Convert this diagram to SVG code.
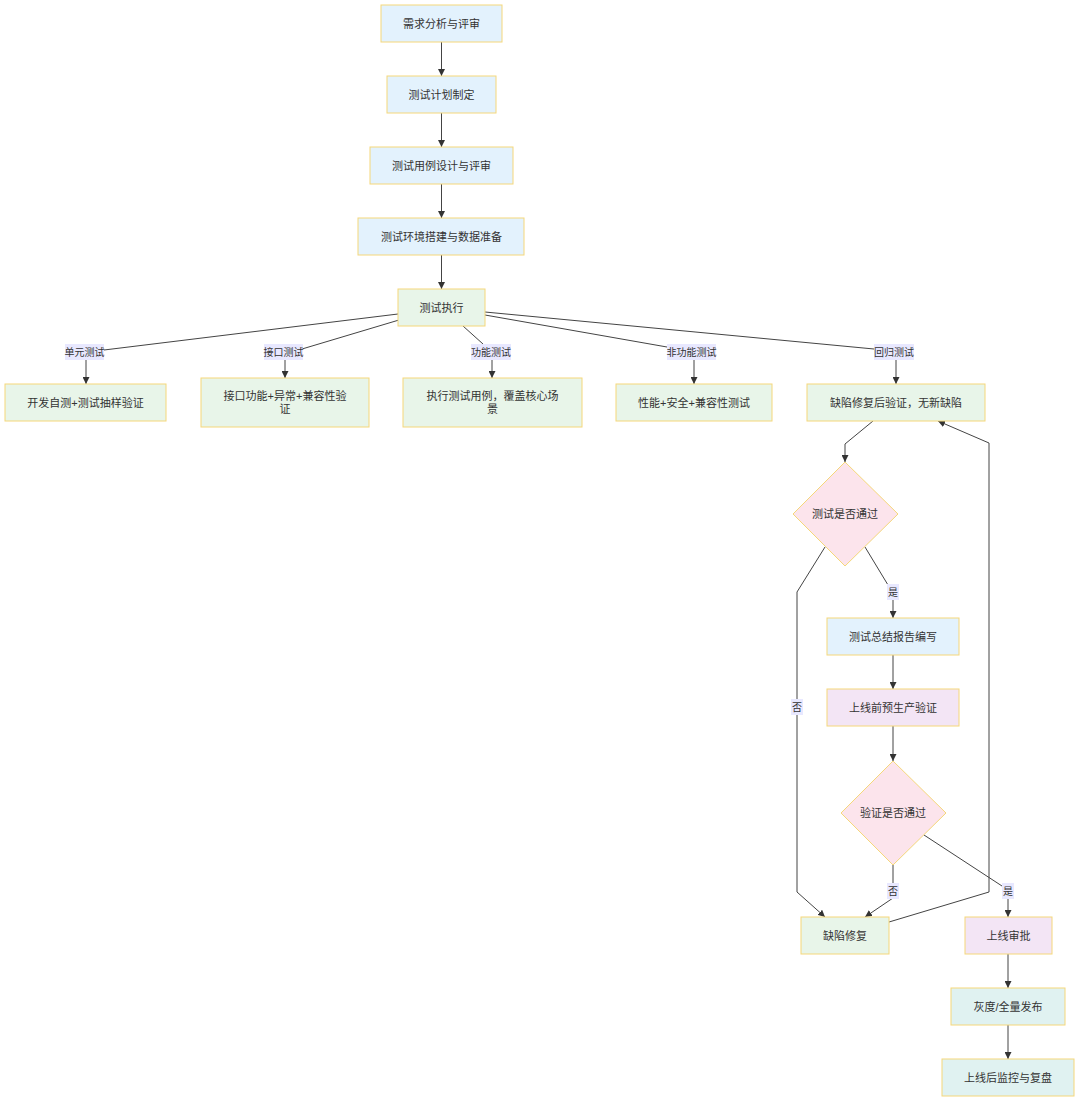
<svg xmlns="http://www.w3.org/2000/svg" width="1080" height="1102" viewBox="0 0 1080 1102">
<defs>
<style>
.n rect, .n polygon { stroke: #f5d77a; stroke-width: 1; }
.blue { fill: #e3f2fd; }
.green { fill: #e8f5e9; }
.pink { fill: #fce4ec; }
.purple { fill: #f3e5f5; }
.teal { fill: #e0f2f1; }
text { font-family: "Liberation Sans", "Noto Sans CJK SC", sans-serif; fill: #333; text-anchor: middle; dominant-baseline: central; }
.t { font-size: 11px; }
.lt { font-size: 10px; }
.e { fill: none; stroke: #444; stroke-width: 1; marker-end: url(#arr); }
.lb { fill: #e8e8ff; }
</style>
<marker id="arr" viewBox="0 0 10 10" refX="10" refY="5" markerWidth="7" markerHeight="7" markerUnits="userSpaceOnUse" orient="auto">
<path d="M0,0 L10,5 L0,10 z" fill="#333"/>
</marker>
</defs>
<rect width="1080" height="1102" fill="#ffffff"/>
<g id="connectors">
<path class="e" d="M441.5,42 L441.5,76"/>
<path class="e" d="M441.5,113 L441.5,147"/>
<path class="e" d="M441.5,184 L441.5,218"/>
<path class="e" d="M441.5,255 L441.5,289"/>
<path class="e" d="M398,314 L104,350 M86,360 L86,384"/>
<path class="e" d="M399,320 L302,349 M285,360 L285,378"/>
<path class="e" d="M463,326 L483,344 M492,360 L492,378"/>
<path class="e" d="M485,315 L667,347 M694,360 L694,384"/>
<path class="e" d="M485,312 L874,349 M896,360 L896,384"/>
<path class="e" d="M873,421 L845,444 L845,462"/>
<path class="e" d="M865,547 L888,585 M893,600 L893,618"/>
<path class="e" d="M893,655 L893,689"/>
<path class="e" d="M893,726 L893,761"/>
<path class="e" d="M825,547 L797,592 L797,700 M797,714 L797,892 L825,917"/>
<path class="e" d="M893,865 L893,884 M893,898 L865,917"/>
<path class="e" d="M924,835 L1002,886 M1008,898 L1008,917"/>
<path class="e" d="M889,922 L989,892 L989,443 L938,421"/>
<path class="e" d="M1008,954 L1008,988"/>
<path class="e" d="M1008,1025 L1008,1059"/>
</g>
<g id="edge-labels">
<rect class="lb" x="65" y="344" width="39" height="16"/><text class="lt" x="84.5" y="352">单元测试</text>
<rect class="lb" x="264" y="344" width="39" height="16"/><text class="lt" x="283.5" y="352">接口测试</text>
<rect class="lb" x="471" y="344" width="40" height="16"/><text class="lt" x="491" y="352">功能测试</text>
<rect class="lb" x="667" y="344" width="49" height="16"/><text class="lt" x="691.5" y="352">非功能测试</text>
<rect class="lb" x="874" y="344" width="40" height="16"/><text class="lt" x="894" y="352">回归测试</text>
<rect class="lb" x="887" y="584" width="12" height="16"/><text class="lt" x="893" y="592">是</text>
<rect class="lb" x="791" y="699" width="12" height="16"/><text class="lt" x="797" y="707">否</text>
<rect class="lb" x="887" y="883" width="12" height="16"/><text class="lt" x="893" y="891">否</text>
<rect class="lb" x="1002" y="883" width="12" height="16"/><text class="lt" x="1008" y="891">是</text>
</g>
<g id="n1" class="n"><rect class="blue" x="381" y="5" width="121" height="37"/><text class="t" x="441.5" y="23.5">需求分析与评审</text></g>
<g id="n2" class="n"><rect class="blue" x="387" y="76" width="109" height="37"/><text class="t" x="441.5" y="94.5">测试计划制定</text></g>
<g id="n3" class="n"><rect class="blue" x="370" y="147" width="143" height="37"/><text class="t" x="441.5" y="165.5">测试用例设计与评审</text></g>
<g id="n4" class="n"><rect class="blue" x="358" y="218" width="166" height="37"/><text class="t" x="441.5" y="236.5">测试环境搭建与数据准备</text></g>
<g id="n5" class="n"><rect class="green" x="398" y="289" width="87" height="37"/><text class="t" x="441.5" y="307.5">测试执行</text></g>
<g id="n6" class="n"><rect class="green" x="5" y="384" width="161" height="37"/><text class="t" x="85.5" y="402.5">开发自测+测试抽样验证</text></g>
<g id="n7" class="n"><rect class="green" x="201" y="378" width="168" height="49"/><text class="t" x="285" y="396">接口功能+异常+兼容性验</text><text class="t" x="285" y="409">证</text></g>
<g id="n8" class="n"><rect class="green" x="403" y="378" width="179" height="49"/><text class="t" x="492.5" y="396">执行测试用例，覆盖核心场</text><text class="t" x="492.5" y="409">景</text></g>
<g id="n9" class="n"><rect class="green" x="616" y="384" width="156" height="37"/><text class="t" x="694" y="402.5">性能+安全+兼容性测试</text></g>
<g id="n10" class="n"><rect class="green" x="807" y="384" width="178" height="37"/><text class="t" x="896" y="402.5">缺陷修复后验证，无新缺陷</text></g>
<g id="d1" class="n"><polygon class="pink" points="845,462 898,514 845,566 793,514"/><text class="t" x="845" y="514">测试是否通过</text></g>
<g id="n11" class="n"><rect class="blue" x="827" y="618" width="132" height="37"/><text class="t" x="893" y="636.5">测试总结报告编写</text></g>
<g id="n12" class="n"><rect class="purple" x="827" y="689" width="132" height="37"/><text class="t" x="893" y="707.5">上线前预生产验证</text></g>
<g id="d2" class="n"><polygon class="pink" points="893,761 946,813 893,865 841,813"/><text class="t" x="893" y="813">验证是否通过</text></g>
<g id="n13" class="n"><rect class="green" x="801" y="917" width="88" height="37"/><text class="t" x="845" y="935.5">缺陷修复</text></g>
<g id="n14" class="n"><rect class="purple" x="965" y="917" width="87" height="37"/><text class="t" x="1008.5" y="935.5">上线审批</text></g>
<g id="n15" class="n"><rect class="teal" x="951" y="988" width="114" height="37"/><text class="t" x="1008" y="1006.5">灰度/全量发布</text></g>
<g id="n16" class="n"><rect class="teal" x="942" y="1059" width="132" height="37"/><text class="t" x="1008" y="1077.5">上线后监控与复盘</text></g>
</svg>
